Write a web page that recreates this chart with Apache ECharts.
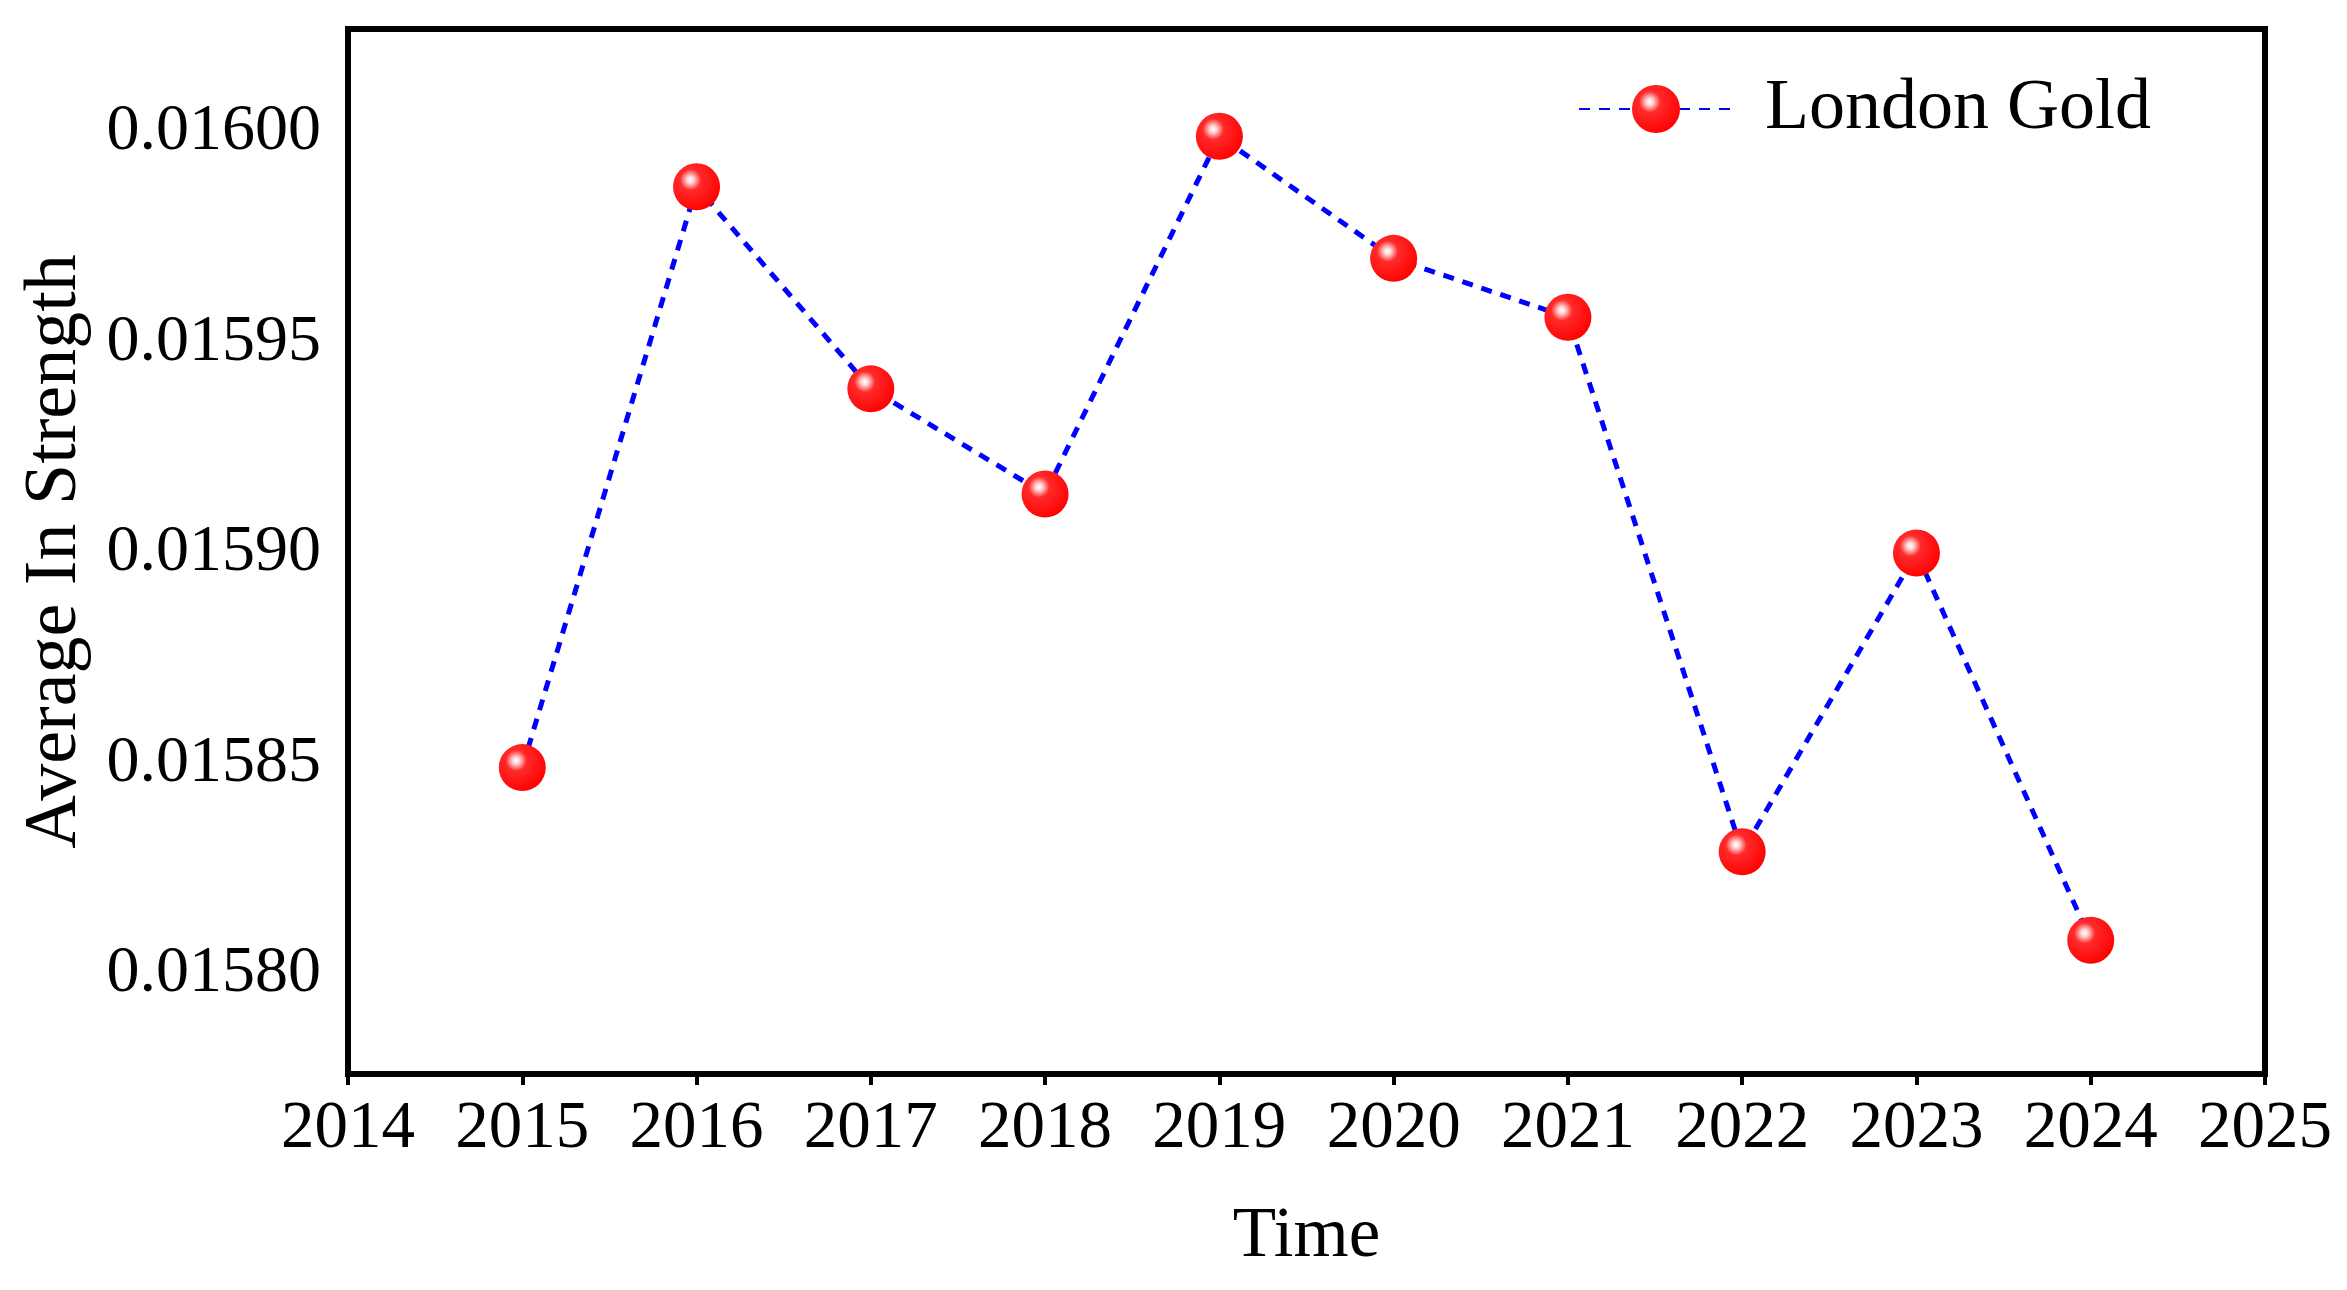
<!DOCTYPE html>
<html>
<head>
<meta charset="utf-8">
<script src="https://cdn.jsdelivr.net/npm/echarts@6/dist/echarts.min.js"></script>
<style>
html,body{margin:0;padding:0;background:#fff;}
#chart{width:2347px;height:1290px;}
</style>
</head>
<body>
<div id="chart"></div>
<script>
const years = [2015, 2016, 2017, 2018, 2019, 2020, 2021, 2022, 2023, 2024];
const strength = [0.015849, 0.015987, 0.015939, 0.015914, 0.015999, 0.015970, 0.015956, 0.015829, 0.015900, 0.015808];
const yTicks = [0.01580, 0.01585, 0.01590, 0.01595, 0.01600];
const seriesName = 'London Gold';

const FONT = '"Liberation Serif", "Times New Roman", serif';
const chart = echarts.init(document.getElementById('chart'));
const sphere = {
  type: 'radial', x: 0.37, y: 0.35, r: 0.7,
  colorStops: [
    { offset: 0, color: '#ffffff' },
    { offset: 0.1, color: '#ffd8d8' },
    { offset: 0.32, color: '#ff2a2a' },
    { offset: 1, color: '#ff0000' }
  ]
};
chart.setOption({
  animation: false,
  backgroundColor: '#ffffff',
  grid: {
    left: 348, right: 82, top: 29, bottom: 216,
    show: true, borderColor: '#000', borderWidth: 6, backgroundColor: 'transparent'
  },
  legend: {
    show: true,
    left: 1578, top: 73, padding: 0,
    itemWidth: 154, itemHeight: 60,
    data: [seriesName],
    textStyle: { fontFamily: FONT, fontSize: 72, color: '#000', padding: [0, 0, 0, 27] }
  },
  xAxis: {
    type: 'value', min: 2014, max: 2025, interval: 1,
    name: 'Time', nameLocation: 'middle', nameGap: 128,
    nameTextStyle: { fontFamily: FONT, fontSize: 71, color: '#000' },
    axisLine: { show: true, lineStyle: { color: '#000', width: 6 } },
    axisTick: { show: true, inside: false, length: 11, lineStyle: { color: '#000', width: 4 } },
    axisLabel: { fontFamily: FONT, fontSize: 67, color: '#000', margin: 22, formatter: v => String(v) },
    splitLine: { show: false }
  },
  yAxis: {
    type: 'value', min: 0.0157762, max: 0.0160245,
    name: 'Average In Strength', nameLocation: 'middle', nameGap: 255,
    nameTextStyle: { fontFamily: FONT, fontSize: 74, color: '#000' },
    axisLine: { show: true, lineStyle: { color: '#000', width: 6 } },
    axisTick: { show: false },
    axisLabel: {
      fontFamily: FONT, fontSize: 66, color: '#000', margin: 27,
      customValues: yTicks,
      formatter: v => v.toFixed(5)
    },
    splitLine: { show: false }
  },
  series: [{
    name: seriesName,
    type: 'line',
    data: years.map((y, i) => [y, strength[i]]),
    symbol: 'circle', symbolSize: 47,
    lineStyle: { color: '#0000ff', width: 5, type: [11, 9] },
    itemStyle: { color: sphere, borderWidth: 0 },
    z: 3
  }]
});
</script>
</body>
</html>
